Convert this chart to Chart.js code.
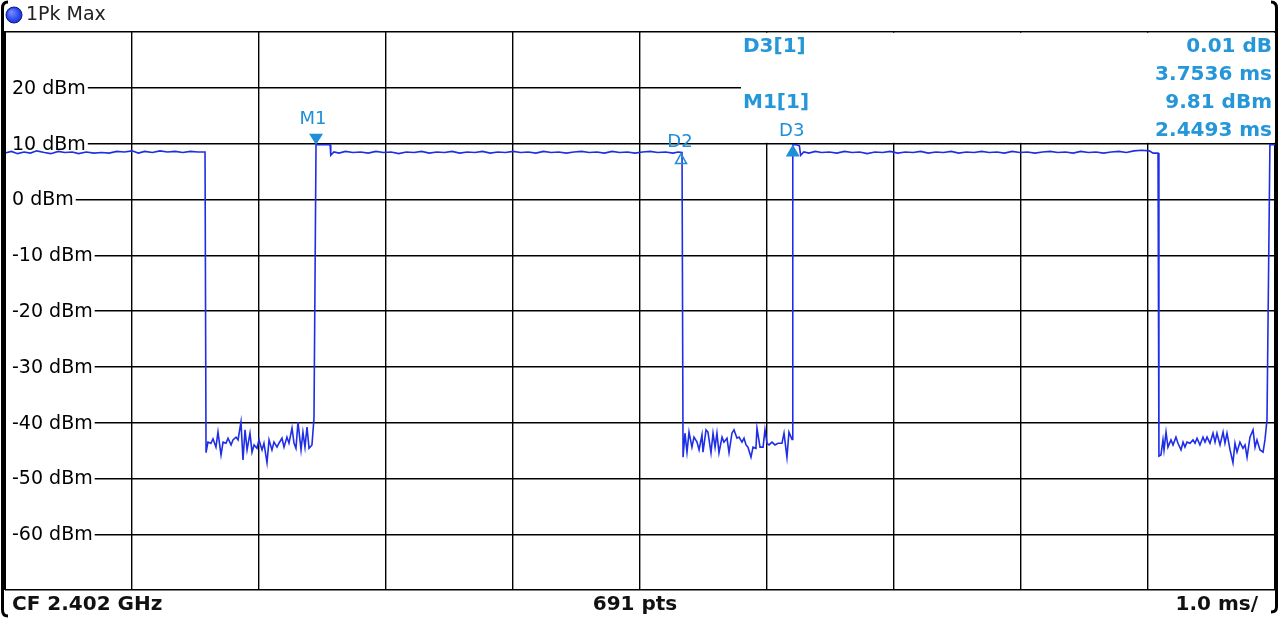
<!DOCTYPE html>
<html>
<head>
<meta charset="utf-8">
<script src="https://cdn.jsdelivr.net/npm/chart.js@4.4.1/dist/chart.umd.min.js"></script>
<style>
  html, body { margin: 0; padding: 0; background: #fff; }
  #wrap { width: 1285px; height: 618px; position: relative; }
</style>
</head>
<body>
<div id="wrap"><canvas id="trace"></canvas></div>
<script>
// zero span trace, time in ms / level in dBm
const burstA = [
  [0, 8.3], [0.05, 8.6], [0.1, 8.2], [0.15, 8.5], [0.2, 8.3], [0.25, 8.7], [0.31, 8.4], [0.36, 8.2],
  [0.42, 8.6], [0.47, 8.4], [0.53, 8.5], [0.58, 8.2], [0.64, 8.5], [0.7, 8.3], [0.76, 8.4], [0.82, 8.3],
  [0.88, 8.6], [0.94, 8.5], [1.0, 8.7], [1.05, 8.3], [1.1, 8.6], [1.16, 8.4], [1.22, 8.7], [1.28, 8.5],
  [1.34, 8.6], [1.4, 8.4], [1.46, 8.6], [1.52, 8.5], [1.575, 8.5]
];
const gapA = [
  [1.583, -45.4], [1.598, -43.5], [1.622, -43.7], [1.638, -42.9], [1.661, -44.4], [1.677, -41.7],
  [1.701, -45.8], [1.717, -43.5], [1.740, -43.7], [1.756, -42.8], [1.780, -44.0], [1.795, -43.1],
  [1.819, -42.6], [1.835, -43.1], [1.858, -39.9], [1.874, -46.7], [1.890, -41.3], [1.906, -44.9],
  [1.929, -41.9], [1.945, -45.3], [1.961, -44.0], [1.984, -44.6], [2.000, -43.1], [2.024, -44.9],
  [2.039, -43.7], [2.063, -47.2], [2.079, -43.1], [2.102, -44.9], [2.118, -43.5], [2.142, -44.4],
  [2.157, -43.7], [2.181, -42.8], [2.197, -44.4], [2.220, -42.6], [2.236, -43.7], [2.260, -41.0],
  [2.276, -43.7], [2.291, -44.6], [2.307, -39.9], [2.331, -44.9], [2.346, -41.7], [2.362, -44.4],
  [2.378, -40.8], [2.394, -44.6], [2.417, -44.0], [2.433, -39.2]
];
const burstB = [
  [2.449, 9.8], [2.49, 9.8], [2.56, 9.8], [2.565, 7.9], [2.59, 8.5], [2.63, 8.3], [2.68, 8.6], [2.74, 8.4],
  [2.80, 8.5], [2.86, 8.3], [2.92, 8.6], [2.98, 8.4], [3.04, 8.5], [3.10, 8.2], [3.16, 8.5], [3.22, 8.4],
  [3.28, 8.6], [3.34, 8.3], [3.40, 8.5], [3.46, 8.4], [3.52, 8.6], [3.58, 8.3], [3.64, 8.5], [3.70, 8.4],
  [3.76, 8.6], [3.82, 8.3], [3.88, 8.5], [3.94, 8.4], [4.00, 8.6], [4.06, 8.4], [4.12, 8.5], [4.18, 8.3],
  [4.24, 8.6], [4.30, 8.4], [4.36, 8.5], [4.42, 8.3], [4.48, 8.5], [4.54, 8.6], [4.60, 8.4], [4.66, 8.5],
  [4.72, 8.3], [4.78, 8.6], [4.84, 8.4], [4.90, 8.5], [4.96, 8.3], [5.02, 8.5], [5.08, 8.6], [5.14, 8.4],
  [5.20, 8.5], [5.26, 8.3], [5.30, 8.5], [5.331, 8.4]
];
const gapB = [
  [5.339, -46.2], [5.354, -41.9], [5.370, -45.3], [5.386, -41.7], [5.409, -44.4], [5.425, -42.6],
  [5.449, -43.5], [5.465, -44.9], [5.488, -42.2], [5.496, -45.3], [5.520, -41.3], [5.535, -41.7],
  [5.559, -45.4], [5.575, -41.9], [5.591, -44.4], [5.606, -41.9], [5.622, -45.4], [5.646, -42.6],
  [5.661, -43.5], [5.685, -42.8], [5.701, -45.4], [5.724, -41.9], [5.740, -41.3], [5.764, -42.8],
  [5.780, -42.6], [5.803, -43.5], [5.819, -42.8], [5.835, -44.0], [5.850, -44.4], [5.874, -46.2],
  [5.890, -44.4], [5.913, -44.6], [5.921, -41.0], [5.945, -44.4], [5.969, -44.4], [5.984, -41.3],
  [6.000, -43.7], [6.016, -44.0], [6.039, -43.5], [6.063, -44.0], [6.087, -43.7], [6.118, -43.7],
  [6.134, -41.9], [6.157, -46.2], [6.173, -41.7], [6.197, -43.0]
];
const burstC = [
  [6.203, 9.8], [6.23, 9.8], [6.255, 9.6], [6.265, 7.9], [6.29, 8.5], [6.33, 8.3], [6.38, 8.6], [6.43, 8.4],
  [6.49, 8.5], [6.55, 8.3], [6.61, 8.6], [6.67, 8.4], [6.73, 8.5], [6.79, 8.2], [6.85, 8.5], [6.91, 8.4],
  [6.97, 8.6], [7.03, 8.3], [7.09, 8.5], [7.15, 8.4], [7.21, 8.6], [7.27, 8.3], [7.33, 8.5], [7.39, 8.4],
  [7.45, 8.6], [7.51, 8.3], [7.57, 8.5], [7.63, 8.4], [7.69, 8.6], [7.75, 8.4], [7.81, 8.5], [7.87, 8.3],
  [7.93, 8.6], [7.99, 8.4], [8.05, 8.5], [8.11, 8.3], [8.17, 8.5], [8.23, 8.6], [8.29, 8.4], [8.35, 8.5],
  [8.41, 8.3], [8.47, 8.6], [8.53, 8.4], [8.59, 8.5], [8.65, 8.3], [8.71, 8.5], [8.77, 8.6], [8.83, 8.4],
  [8.89, 8.7], [8.95, 8.8], [9.01, 8.7], [9.04, 8.3], [9.079, 8.3]
];
const gapC = [
  [9.086, -46.0], [9.102, -45.8], [9.118, -43.1], [9.126, -44.9], [9.142, -41.7], [9.157, -44.4],
  [9.181, -43.1], [9.197, -44.0], [9.220, -42.6], [9.236, -43.7], [9.260, -44.9], [9.276, -43.5],
  [9.291, -44.4], [9.307, -43.5], [9.331, -43.7], [9.354, -43.1], [9.370, -43.7], [9.386, -42.8],
  [9.409, -44.0], [9.433, -42.6], [9.449, -43.5], [9.465, -42.6], [9.488, -43.7], [9.512, -41.9],
  [9.528, -43.5], [9.543, -41.9], [9.567, -44.0], [9.591, -41.7], [9.606, -43.7], [9.622, -41.9],
  [9.646, -44.9], [9.669, -47.2], [9.685, -43.7], [9.701, -45.3], [9.724, -43.5], [9.748, -44.6],
  [9.764, -44.0], [9.780, -46.2], [9.803, -42.6], [9.827, -41.3], [9.843, -44.4], [9.858, -43.1],
  [9.882, -44.9], [9.906, -45.3], [9.921, -43.1], [9.937, -39.5]
];
const burstD = [[9.96, 9.8], [10, 9.8]];

const levelTicks = [20, 10, 0, -10, -20, -30, -40, -50, -60];

// markers: name, time ms, level dBm
const markerNames = ["M1", "D2", "D3"];
const markerTimes = [2.4493, 5.323, 6.2029];
const markerLevels = [9.81, 8.4, 9.82];

const readoutLeft = ["D3[1]", "", "M1[1]", ""];
const readoutRight = ["0.01 dB", "3.7536 ms", "9.81 dBm", "2.4493 ms"];

const tracePoints = [...burstA, ...gapA, ...burstB, ...gapB, ...burstC, ...gapC, ...burstD]
  .map(p => ({ x: p[0], y: p[1] }));

const markerBlue = "#1f8fd8";
const font = '"DejaVu Sans", Verdana, sans-serif';

const analyzer = {
  id: "analyzer",
  beforeDatasetsDraw(chart) {
    const { ctx, chartArea: a, scales: { y } } = chart;
    ctx.save();
    // level labels sit on the grid lines
    ctx.font = "19px " + font;
    ctx.textBaseline = "middle";
    levelTicks.forEach(v => {
      const py = y.getPixelForValue(v);
      const label = v + " dBm";
      const w = ctx.measureText(label).width;
      ctx.fillStyle = "#fff";
      ctx.fillRect(a.left + 1, py - 10, w + 8, 20);
      ctx.fillStyle = "#000";
      ctx.fillText(label, a.left + 7, py + 1);
    });
    // marker readout box
    const boxTop = a.top + 0.8;
    const boxBottom = y.getPixelForValue(10) - 0.8;
    ctx.fillStyle = "#fff";
    ctx.fillRect(741, boxTop, a.right - 741 + 1, boxBottom - boxTop);
    ctx.font = "bold 20px " + font;
    ctx.fillStyle = "#2596d8";
    readoutRight.forEach((t, i) => {
      const py = 47 + i * 28;
      ctx.textAlign = "left";
      if (readoutLeft[i]) ctx.fillText(readoutLeft[i], 743, py);
      ctx.textAlign = "right";
      ctx.fillText(t, a.right - 3, py);
    });
    ctx.restore();
  },
  afterDatasetsDraw(chart) {
    const { ctx, scales: { x, y } } = chart;
    ctx.save();
    ctx.font = "18px " + font;
    ctx.textAlign = "center";
    ctx.textBaseline = "middle";
    markerNames.forEach((name, i) => {
      const px = x.getPixelForValue(markerTimes[i]);
      const py = y.getPixelForValue(markerLevels[i]);
      ctx.fillStyle = markerBlue;
      ctx.strokeStyle = markerBlue;
      ctx.lineWidth = 1.5;
      ctx.beginPath();
      if (name === "M1") {
        ctx.moveTo(px, py); ctx.lineTo(px - 7, py - 11); ctx.lineTo(px + 7, py - 11);
        ctx.closePath(); ctx.fill();
        ctx.fillText(name, px - 3, py - 25);
      } else if (name === "D3") {
        ctx.moveTo(px, py); ctx.lineTo(px - 7, py + 12); ctx.lineTo(px + 7, py + 12);
        ctx.closePath(); ctx.fill();
        ctx.fillText(name, px - 1, py - 13);
      } else {
        ctx.moveTo(px, py + 1); ctx.lineTo(px - 5.5, py + 11); ctx.lineTo(px + 5.5, py + 11);
        ctx.closePath(); ctx.stroke();
        ctx.fillText(name, px - 1, py - 10);
      }
    });
    ctx.restore();
  },
  afterDraw(chart) {
    const { ctx, chartArea: a } = chart;
    ctx.save();
    // header
    const g = ctx.createRadialGradient(11, 12, 1, 14, 15, 8);
    g.addColorStop(0, "#7088ff");
    g.addColorStop(1, "#1530e0");
    ctx.fillStyle = g;
    ctx.beginPath(); ctx.arc(14, 15, 8, 0, Math.PI * 2); ctx.fill();
    ctx.strokeStyle = "#0a1a90"; ctx.lineWidth = 1; ctx.stroke();
    ctx.fillStyle = "#222";
    ctx.font = "19px " + font;
    ctx.textBaseline = "middle";
    ctx.fillText("1Pk Max", 26, 15);
    ctx.strokeStyle = "#000";
    ctx.lineWidth = 1;
    ctx.beginPath(); ctx.moveTo(3, 31.5); ctx.lineTo(a.right, 31.5); ctx.stroke();
    // footer
    ctx.font = "bold 20px " + font;
    ctx.fillStyle = "#111";
    const fy = 605;
    ctx.textAlign = "left"; ctx.fillText("CF 2.402 GHz", 12, fy);
    ctx.textAlign = "center"; ctx.fillText("691 pts", 635, fy);
    ctx.textAlign = "right"; ctx.fillText("1.0 ms/", 1258, fy);
    // outer bracket borders
    ctx.lineWidth = 3;
    ctx.beginPath();
    ctx.moveTo(8, 2); ctx.quadraticCurveTo(2.5, 2, 2.5, 8);
    ctx.lineTo(2.5, 610); ctx.quadraticCurveTo(2.5, 616, 8, 616);
    ctx.stroke();
    // left plot edge merges with the bracket
    ctx.lineWidth = 2;
    ctx.beginPath(); ctx.moveTo(a.left, a.top); ctx.lineTo(a.left, a.bottom); ctx.stroke();
    ctx.lineWidth = 3;
    ctx.beginPath();
    ctx.moveTo(1271, 2); ctx.quadraticCurveTo(1276.5, 2, 1276.5, 8);
    ctx.lineTo(1276.5, 607); ctx.quadraticCurveTo(1276.5, 612, 1271, 612);
    ctx.stroke();
    ctx.restore();
  }
};

new Chart(document.getElementById("trace"), {
  type: "scatter",
  data: {
    datasets: [{
      label: "1Pk Max",
      data: tracePoints,
      showLine: true,
      borderColor: "#1e2ee6",
      borderWidth: 1.6,
      pointRadius: 0,
      tension: 0
    }]
  },
  options: {
    responsive: true,
    maintainAspectRatio: false,
    animation: false,
    layout: { padding: { left: 5, right: 10, top: 32, bottom: 28 } },
    plugins: { legend: { display: false }, tooltip: { enabled: false } },
    scales: {
      x: {
        type: "linear", min: 0, max: 10,
        ticks: { display: false, stepSize: 1 },
        grid: { color: "#000", lineWidth: 1.4, drawTicks: false },
        border: { display: false }
      },
      y: {
        type: "linear", min: -70, max: 30,
        ticks: { display: false, stepSize: 10 },
        grid: { color: "#000", lineWidth: 1.4, drawTicks: false },
        border: { display: false }
      }
    }
  },
  plugins: [analyzer]
});
</script>
</body>
</html>
